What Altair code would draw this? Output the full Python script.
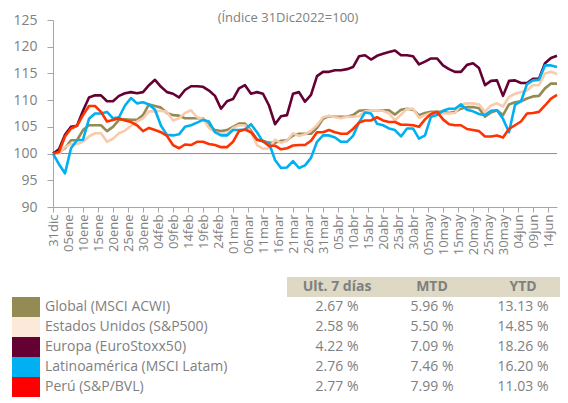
import altair as alt
import pandas as pd

# ---------------- data ----------------
days = list(range(0, 169, 2))  # days since 31-Dec-2022

global_vals = [100, 100.2, 101, 102.5, 102.5, 104.4, 105.3, 105.3, 105.3, 104.2,
               105, 106.3, 106.4, 106.3, 106.3, 107.2, 109.2, 108.9, 108.6, 107.6,
               107.2, 107.1, 106.6, 106.6, 106.6, 106.6, 105.2, 104.4, 104.2, 104.4,
               105, 105.6, 105.6, 104.3, 102.6, 102.4, 102, 102, 102.4, 102.5,
               103.4, 103.7, 103.7, 103.7, 104.8, 106.5, 107, 106.9, 106.9, 106.9,
               107.2, 108, 108.1, 108.1, 108.1, 108.1, 108.1, 107.3, 108.2, 108.4,
               108.2, 107.2, 107.6, 107.8, 107.8, 107.8, 107.6, 107.8, 108.4, 108.7,
               108.7, 108.5, 106.9, 107.7, 108.1, 107.2, 109.2, 109.6, 109.8, 110.3,
               110.7, 110.8, 112.2, 113.1, 113.1]

us_vals = [100, 100, 101.2, 101.8, 101.8, 102.2, 103.2, 103.8, 103.8, 102.2,
           102.8, 103.8, 104.3, 105.2, 106, 106.6, 107.9, 107.9, 108, 107.8,
           106.2, 106.6, 107.6, 108.1, 106.8, 106.5, 104.8, 104, 103.7, 103.7,
           104.8, 105.3, 105.3, 104, 101.6, 100.9, 101, 102.6, 102, 102.4,
           103.8, 103.3, 103.6, 104.3, 105.3, 106.8, 107.1, 106.8, 106.6, 106.9,
           106.9, 107, 107.9, 108.1, 108.1, 108, 107.5, 106.2, 107.3, 108.4,
           108.4, 106.7, 107.2, 107.6, 107.5, 107.5, 107.5, 107.6, 109.2, 109.4,
           109.4, 109.2, 107.8, 109, 109.4, 108.8, 110.6, 111.2, 111.5, 111.8,
           112.8, 112.8, 115, 115.3, 114.9]

europe_vals = [100, 100.8, 103.5, 105, 105.2, 108, 110.5, 110.9, 110.9, 109.8,
               109.8, 110.8, 111.3, 111.5, 111.3, 111.5, 112.8, 113.8, 112.5, 111.5,
               111.2, 110.5, 111.9, 112.6, 112.6, 112.5, 111.8, 110.8, 108.4, 109.8,
               110.2, 112.2, 112.8, 111.2, 111.5, 111.2, 109, 105.5, 107, 107.2,
               111.2, 111.5, 109.7, 111, 114.5, 115.3, 115.3, 115.6, 115.6, 115.8,
               116.2, 118.2, 118.4, 117.6, 118.3, 118.7, 119, 119.3, 118.4, 118.4,
               118.2, 116.7, 117.2, 117.8, 117.8, 116.5, 115.8, 115.3, 115.3, 116.6,
               116.9, 116, 112.8, 113.6, 113.7, 110.8, 113.6, 113.7, 113.2, 113.2,
               114, 114, 116.9, 117.9, 118.3]

latam_vals = [100, 98, 96.3, 101, 102.5, 102.6, 106.5, 107.5, 107.5, 107.8,
              106.6, 106.8, 109, 110.4, 109.4, 109.6, 109.2, 108.2, 105.2, 103.5,
              103.4, 103.6, 105, 105.3, 105.8, 106.3, 106, 104, 103.4, 103.4,
              104.4, 104.4, 104.5, 105.5, 104, 102.2, 102, 98.8, 97.3, 97.4,
              98.6, 97.3, 97.8, 99.2, 102.2, 103.4, 103.4, 103, 102.2, 102.2,
              103.3, 105.8, 107.7, 107.5, 105.6, 105.3, 104.7, 104.4, 103.2, 104.7,
              104.7, 102.8, 103.4, 106.9, 107.2, 108, 108.4, 108.4, 109.2, 108.2,
              107.9, 107.4, 107.2, 108, 108.1, 106.5, 104, 109.1, 109.8, 113,
              113.7, 113.8, 116.5, 116.5, 116.2]

peru_vals = [100, 100.3, 103.2, 104.7, 105.2, 107.2, 108.9, 108.9, 107.8, 106,
             106.3, 106.6, 106.2, 105.9, 105.3, 104.2, 104.8, 104.4, 104, 103.3,
             101.6, 101, 101.7, 101.6, 102.2, 102.2, 101.8, 101.6, 101.2, 101.2,
             102.2, 104.2, 104.5, 104, 102.6, 102.3, 101.4, 101.5, 100.8, 101,
             101.5, 101.6, 101.6, 102.4, 104, 104, 104.4, 104, 103.7, 103.7,
             104.6, 105.8, 106.2, 106.2, 106.8, 106.2, 105.9, 105.9, 105.4, 105.4,
             105.3, 105, 106.4, 107.4, 107.8, 106.4, 105.5, 105.3, 105.3, 104.6,
             104.4, 104.2, 103.2, 103.2, 103.4, 103, 104.6, 105.3, 106, 107.5,
             107.6, 107.8, 109, 110.3, 111]

series_names = ["Global (MSCI ACWI)", "Estados Unidos (S&P500)", "Europa (EuroStoxx50)",
                "Latinoamérica (MSCI Latam)", "Perú (S&P/BVL)"]
ult7 = ["2.67 %", "2.58 %", "4.22 %", "2.76 %", "2.77 %"]
mtd = ["5.96 %", "5.50 %", "7.09 %", "7.46 %", "7.99 %"]
ytd = ["13.13 %", "14.85 %", "18.26 %", "16.20 %", "11.03 %"]
headers = ["Ult. 7 días", "MTD", "YTD"]

baseline_value = [100]
tick_days = list(range(0, 166, 5))
tick_labels = ["31dic", "05ene", "10ene", "15ene", "20ene", "25ene", "30ene", "04feb",
               "09feb", "14feb", "19feb", "24feb", "01mar", "06mar", "11mar", "16mar",
               "21mar", "26mar", "31mar", "05abr", "10abr", "15abr", "20abr", "25abr",
               "30abr", "05may", "10may", "15may", "20may", "25may", "30may", "04jun",
               "09jun", "14jun"]
y_ticks = [90, 95, 100, 105, 110, 115, 120, 125]
title_text = "(Índice 31Dic2022=100)"

# ---------------- styles ----------------
line_colors = ["#948A54", "#F8CBAD", "#640032", "#00B0F0", "#FF3300"]
swatch_colors = ["#948A54", "#FDE9D9", "#640032", "#00B0F0", "#FF0000"]
GRAY = "#808080"
AXIS_GRAY = "#A6A6A6"
FONT = "Open Sans"

all_vals = [global_vals, us_vals, europe_vals, latam_vals, peru_vals]
frames = []
for name, vals in zip(series_names, all_vals):
    frames.append(pd.DataFrame({"day": days, "value": vals, "serie": name}))
df = pd.concat(frames, ignore_index=True)

label_js = "[" + ",".join("'%s'" % t for t in tick_labels) + "]"

yscale_main = alt.Scale(domain=[90, 125], nice=False, zero=False)
y_axis = alt.Axis(values=y_ticks, labelFontSize=14, labelColor=GRAY,
                  labelFont=FONT, tickSize=6, labelPadding=10, minExtent=45,
                  labelOverlap=False, labelFlush=False,
                  tickColor=AXIS_GRAY, domainColor=AXIS_GRAY, grid=False,
                  title=None)

x_enc = alt.X("day:Q",
              scale=alt.Scale(domain=[0, 168], nice=False, zero=False),
              axis=alt.Axis(values=tick_days, labelExpr=label_js + "[round(datum.value/5)]",
                            labelAngle=270, labelFontSize=13, labelColor=GRAY,
                            labelFont=FONT, labelPadding=2, labelOverlap=False,
                            labelFlush=False, tickSize=5, tickColor=AXIS_GRAY,
                            domainColor=AXIS_GRAY, grid=False, title=None))
y_enc = alt.Y("value:Q", scale=yscale_main, axis=y_axis)

base_rule = alt.Chart(pd.DataFrame({"value": baseline_value})).mark_rule(
    color="#8C8C8C", strokeWidth=1).encode(y=y_enc)

layers = [base_rule]
for name, col in zip(series_names, line_colors):
    layers.append(
        alt.Chart(df[df["serie"] == name]).mark_line(
            color=col, strokeWidth=2.6, strokeJoin="round").encode(x=x_enc, y=y_enc)
    )

title_mark = alt.Chart(pd.DataFrame({"t": [title_text]})).mark_text(
    baseline="top", align="center", fontSize=13, color=GRAY, font=FONT
).encode(x=alt.value(235), y=alt.value(-8), text="t:N")
layers.append(title_mark)

top = alt.layer(*layers).properties(width=504, height=187)

# ---------------- table ----------------
rows_domain = ["hdr"] + series_names
tdf = pd.DataFrame({"row": series_names, "c1": ult7, "c2": mtd, "c3": ytd})
hdf = pd.DataFrame({"row": ["hdr"], "c1": [headers[0]], "c2": [headers[1]], "c3": [headers[2]]})
yscale = alt.Scale(domain=rows_domain, paddingInner=0, paddingOuter=0)
ry = alt.Y("row:N", scale=yscale, axis=None)

# table layout (pixels relative to plot origin)
col_x = [284, 379, 470]

hdr_rect = alt.Chart(hdf).mark_rect(color="#DDD9C4").encode(
    y=ry, x=alt.value(234), x2=alt.value(507))
swatch = alt.Chart(tdf).mark_rect().encode(
    y=ry, x=alt.value(-41), x2=alt.value(-13),
    color=alt.Color("row:N", scale=alt.Scale(domain=series_names, range=swatch_colors), legend=None))
names_txt = alt.Chart(tdf).mark_text(align="left", fontSize=14, color=GRAY, font=FONT).encode(
    y=ry, x=alt.value(-8), text="row:N")

tlayers = [hdr_rect, swatch, names_txt]
for c, cx in zip(["c1", "c2", "c3"], col_x):
    tlayers.append(alt.Chart(hdf).mark_text(align="center", fontSize=14, fontWeight="bold",
                                            color=GRAY, font=FONT).encode(
        y=ry, x=alt.value(cx), text=c + ":N"))
    tlayers.append(alt.Chart(tdf).mark_text(align="center", fontSize=14, color=GRAY, font=FONT).encode(
        y=ry, x=alt.value(cx), text=c + ":N"))

table = alt.layer(*tlayers).properties(width=504, height=120)

chart = alt.vconcat(top, table, spacing=22).properties(
    padding={"left": 0, "right": 0, "top": 4, "bottom": 0}
).configure(font=FONT).configure_view(stroke=None)

chart.save("out.html", embed_options={"renderer": "svg", "actions": False})
